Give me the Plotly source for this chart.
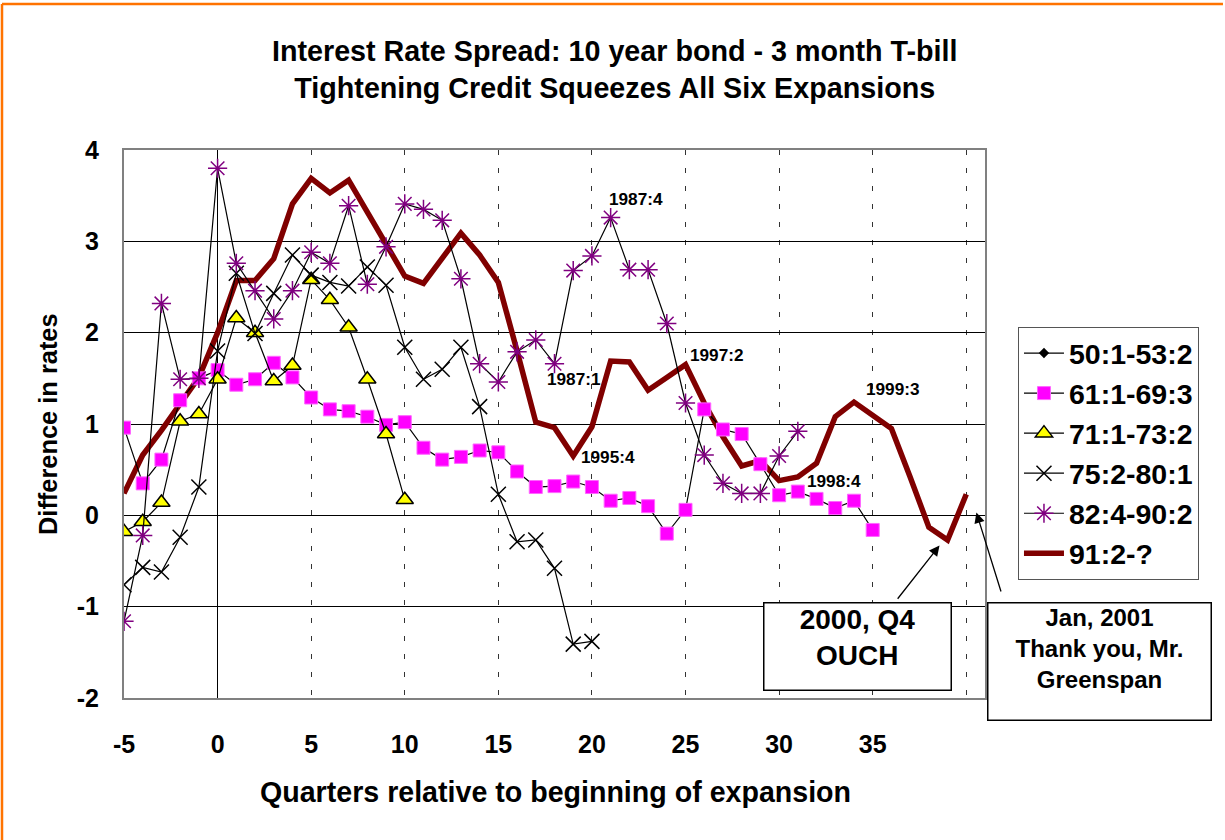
import plotly.graph_objects as go

# Quarters relative to the start of each expansion
q50 = [None]  # this cycle appears in the key only
q61 = list(range(-5, 36))
q71 = list(range(-5, 11))
q75 = list(range(-5, 21))
q82 = list(range(-5, 32))
q91 = list(range(-5, 41))

# Spread (10-year bond minus 3-month T-bill), percentage points
s50 = [None]
s61 = [0.96, 0.35, 0.61, 1.26, 1.50, 1.59, 1.43, 1.49, 1.67, 1.51, 1.29, 1.16, 1.14, 1.08,
       0.99, 1.02, 0.74, 0.61, 0.64, 0.71, 0.69, 0.48, 0.31, 0.32, 0.37, 0.31, 0.16, 0.19,
       0.10, -0.20, 0.06, 1.16, 0.94, 0.89, 0.56, 0.22, 0.26, 0.18, 0.08, 0.16, -0.16]
s71 = [-0.18, -0.07, 0.14, 1.03, 1.11, 1.49, 2.16, 2.00, 1.47, 1.64, 2.58, 2.36, 2.06,
       1.49, 0.89, 0.17]
s75 = [-0.76, -0.57, -0.62, -0.24, 0.31, 1.80, 2.65, 1.99, 2.43, 2.85, 2.63, 2.55, 2.51,
       2.72, 2.52, 1.84, 1.49, 1.60, 1.84, 1.19, 0.23, -0.29, -0.27, -0.58, -1.41, -1.38]
s82 = [-1.16, -0.22, 2.32, 1.49, 1.50, 3.80, 2.76, 2.46, 2.15, 2.46, 2.88, 2.76, 3.39,
       2.53, 2.94, 3.41, 3.35, 3.23, 2.59, 1.66, 1.46, 1.79, 1.92, 1.66, 2.68, 2.84, 3.26,
       2.69, 2.69, 2.10, 1.23, 0.66, 0.35, 0.24, 0.24, 0.65, 0.92]
s91 = [0.24, 0.66, 0.93, 1.22, 1.51, 2.00, 2.57, 2.57, 2.81, 3.41, 3.69, 3.53, 3.67, 3.32,
       2.98, 2.62, 2.54, 2.81, 3.09, 2.85, 2.55, 1.80, 1.02, 0.96, 0.65, 0.97, 1.69, 1.68,
       1.37, 1.51, 1.65, 1.23, 0.86, 0.54, 0.60, 0.38, 0.42, 0.57, 1.08, 1.24, 1.09, 0.95,
       0.42, -0.13, -0.27, 0.23]

series_names = ["50:1-53:2", "61:1-69:3", "71:1-73:2", "75:2-80:1", "82:4-90:2", "91:2-?"]

x_tick_vals = list(range(-5, 41, 5))
x_tick_text = ["-5", "0", "5", "10", "15", "20", "25", "30", "35", ""]
y_tick_vals = [-2, -1, 0, 1, 2, 3, 4]
y_tick_text = ["-2", "-1", "0", "1", "2", "3", "4"]

date_labels = ["1987:4", "1987:1", "1997:2", "1995:4", "1999:3", "1998:4"]

FONT = "Liberation Sans, Arial, sans-serif"
BOLD = dict(family=FONT, color="black", weight="bold")

fig = go.Figure()

# current expansion underneath the others
fig.add_trace(go.Scatter(
    x=q91, y=s91, name=series_names[5], mode="lines",
    line=dict(color="#800000", width=5.5), legendrank=6))

fig.add_trace(go.Scatter(
    x=q50, y=s50, name=series_names[0], mode="lines+markers",
    line=dict(color="black", width=1.2),
    marker=dict(symbol="diamond", size=8, color="black"), legendrank=1))

fig.add_trace(go.Scatter(
    x=q61, y=s61, name=series_names[1], mode="lines+markers",
    line=dict(color="black", width=1.2),
    marker=dict(symbol="square", size=13, color="#FF00FF",
                line=dict(color="#FF66FF", width=1)), legendrank=2))

fig.add_trace(go.Scatter(
    x=q71, y=s71, name=series_names[2], mode="lines+markers",
    line=dict(color="black", width=1.2),
    marker=dict(symbol="triangle-up", size=15, color="#FFFF00",
                line=dict(color="black", width=1.5)), legendrank=3))

fig.add_trace(go.Scatter(
    x=q75, y=s75, name=series_names[3], mode="lines+markers",
    line=dict(color="black", width=1.2),
    marker=dict(symbol="x-thin-open", size=15, color="black",
                line=dict(color="black", width=1.5)), legendrank=4))

fig.add_trace(go.Scatter(
    x=q82, y=s82, name=series_names[4], mode="lines+markers",
    line=dict(color="black", width=1.2),
    marker=dict(symbol="asterisk-open", size=16, color="#800080",
                line=dict(color="#800080", width=1.5)), legendrank=5))

annotations = []

# date call-outs on the curves
label_pos = [(22.34, 3.46), (19.03, 1.49), (26.66, 1.76), (20.84, 0.635),
             (36.11, 1.38), (32.91, 0.38)]
for txt, (qx, vy) in zip(date_labels, label_pos):
    annotations.append(dict(x=qx, y=vy, xref="x", yref="y", text=txt, showarrow=False,
                            font=dict(BOLD, size=17.2)))

# title
annotations.append(dict(
    x=0.5697, y=1.147, xref="paper", yref="paper", showarrow=False,
    text="Interest Rate Spread: 10 year bond - 3 month T-bill<br>"
         "Tightening Credit Squeezes All Six Expansions",
    font=dict(BOLD, size=28.7), yanchor="middle"))

# axis titles
annotations.append(dict(
    x=0.5006, y=-0.1715, xref="paper", yref="paper", showarrow=False,
    text="Quarters relative to beginning of expansion",
    font=dict(BOLD, size=28.6), yanchor="middle"))
annotations.append(dict(
    x=-0.0883, y=0.5, xref="paper", yref="paper", showarrow=False,
    text="Difference in rates", textangle=-90,
    font=dict(BOLD, size=25.4), xanchor="center", yanchor="middle"))

# boxed comments
annotations.append(dict(
    x=0.8519, y=0.0931, xref="paper", yref="paper", showarrow=False,
    text="2000, Q4<br>OUCH", font=dict(BOLD, size=28),
    width=186, height=86, bordercolor="black", borderwidth=1.5, borderpad=0,
    bgcolor="white", xanchor="center", yanchor="middle", valign="top"))
annotations.append(dict(
    x=1.1330, y=0.0666, xref="paper", yref="paper", showarrow=False,
    text="Jan, 2001<br>Thank you, Mr.<br>Greenspan", font=dict(BOLD, size=24),
    width=222, height=116, bordercolor="black", borderwidth=1.5, borderpad=0,
    bgcolor="white", xanchor="center", yanchor="middle", valign="top"))

# arrows from the boxes to the curve
annotations.append(dict(
    x=38.57, y=-0.33, ax=36.27, ay=-0.93, xref="x", yref="y", axref="x", ayref="y",
    text="", showarrow=True, arrowhead=2, arrowsize=1.6, arrowwidth=1.3,
    arrowcolor="black"))
annotations.append(dict(
    x=40.54, y=0.03, ax=41.88, ay=-0.85, xref="x", yref="y", axref="x", ayref="y",
    text="", showarrow=True, arrowhead=2, arrowsize=1.6, arrowwidth=1.3,
    arrowcolor="black"))

shapes = [
    # orange frame along the page edges
    dict(type="line", xref="paper", yref="paper", x0=-0.1417, x1=1.2764,
         y0=1.2664, y1=1.2664, line=dict(color="#FF7300", width=2.5)),
    dict(type="line", xref="paper", yref="paper", x0=-0.1417, x1=-0.1417,
         y0=1.2664, y1=-0.2591, line=dict(color="#FF7300", width=2.5)),
]

fig.update_layout(
    width=1225, height=840,
    margin=dict(l=124, r=240, t=150, b=142),
    paper_bgcolor="white", plot_bgcolor="white",
    font=dict(family=FONT, color="black"),
    showlegend=True,
    legend=dict(x=1.0383, y=0.677, xanchor="left", yanchor="top",
                bordercolor="#555555", borderwidth=1, bgcolor="white",
                font=dict(BOLD, size=28.5), itemwidth=40, tracegroupgap=0),
    annotations=annotations,
    shapes=shapes,
)

fig.update_xaxes(
    range=[-5, 41], tickvals=x_tick_vals, ticktext=x_tick_text,
    showgrid=True, gridcolor="#333333", gridwidth=1, griddash="5px,13px",
    zeroline=True, zerolinecolor="black", zerolinewidth=1,
    showline=True, mirror=True, linecolor="#808080", linewidth=2,
    ticks="", ticklabelstandoff=23, tickfont=dict(BOLD, size=25),
)
fig.update_yaxes(
    range=[-2, 4], tickvals=y_tick_vals, ticktext=y_tick_text,
    showgrid=True, gridcolor="black", gridwidth=1,
    zeroline=True, zerolinecolor="black", zerolinewidth=1,
    showline=True, mirror=True, linecolor="#808080", linewidth=2,
    ticks="", ticklabelstandoff=18, tickfont=dict(BOLD, size=25),
)

fig.write_html("out.html")
